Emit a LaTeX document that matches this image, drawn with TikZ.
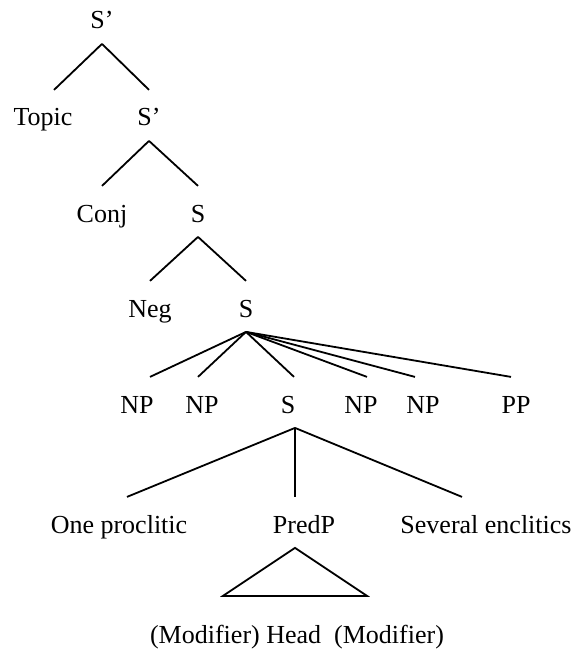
\documentclass[tikz,border=0pt]{standalone}
\usepackage{fontspec}
\setmainfont{Liberation Serif}
\usepackage{tikz}

\tikzset{cat/.style={inner sep=0pt,text height=17.6pt,text depth=7pt,anchor=base,font=\fontsize{13pt}{15pt}\selectfont}}

\begin{document}
\begin{tikzpicture}[x=0.5pt,y=-0.5pt,line width=0.9pt]
\useasboundingbox (0,0) rectangle (574,658);

\node[cat] (top) at (102,29) {S’};

\node[cat] (topic) at (43,126) {Topic};
\node[cat] (sbar) at (149,126) {S’};

\node[cat] (conj) at (102,222) {Conj};
\node[cat] (sa) at (198,222) {S};

\node[cat] (neg) at (150,317) {Neg};
\node[cat] (sb) at (246,317) {S};

\node[cat] (npa) at (137,413) {NP};
\node[cat] (npb) at (202,413) {NP};
\node[cat] (sc) at (288,413) {S};
\node[cat] (npc) at (361,413) {NP};
\node[cat] (npd) at (423,413) {NP};
\node[cat] (pp) at (516,413) {PP};

\node[cat] (procl) at (119,533) {One proclitic};
\node[cat] (predp) at (304,533) {PredP};
\node[cat] (encl) at (486,533) {Several enclitics};

\node[cat] (head) at (297,643) {(Modifier) Head\ \ (Modifier)};

\draw [black](top.south)--([xshift=5.5pt]topic.north);
\draw [black](top.south)--(sbar.north);

\draw [black](sbar.south)--(conj.north);
\draw [black](sbar.south)--(sa.north);

\draw [black](sa.south)--(neg.north);
\draw [black](sa.south)--(sb.north);

\draw [black](sb.south)--([xshift=6.5pt]npa.north);
\draw [black](sb.south)--([xshift=-2pt]npb.north);
\draw [black](sb.south)--([xshift=3pt]sc.north);
\draw [black](sb.south)--([xshift=3pt]npc.north);
\draw [black](sb.south)--([xshift=-4pt]npd.north);
\draw [black](sb.south)--([xshift=-2.5pt]pp.north);

\draw [black]([xshift=3.5pt]sc.south)--([xshift=4pt]procl.north);
\draw [black]([xshift=3.5pt]sc.south)--([xshift=-4.5pt]predp.north);
\draw [black]([xshift=3.5pt]sc.south)--([xshift=-12pt]encl.north);

% triangle under PredP
\draw [black]([xshift=-4.5pt]predp.south)--++(-72,48)--++(144,0)--cycle;
\end{tikzpicture}
\end{document}
